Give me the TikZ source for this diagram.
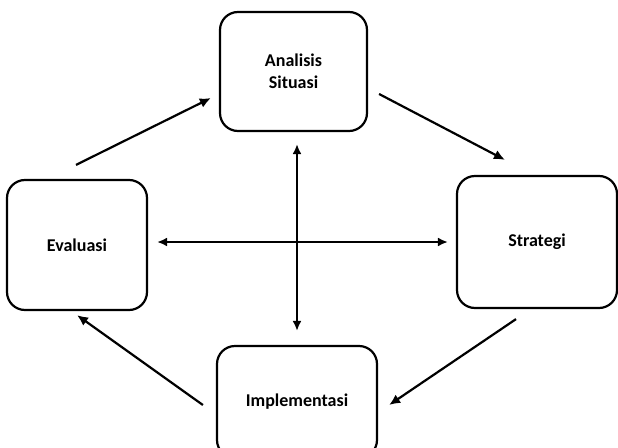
\documentclass[tikz,border=0pt]{standalone}
\usepackage{fontspec}
\setmainfont{Carlito}
\usetikzlibrary{positioning,calc,arrows.meta}

\begin{document}
\begin{tikzpicture}[
    x=1pt, y=-1pt,
    stage/.style={rectangle, draw=black, line width=2.2pt, rounded corners=18pt,
                  inner sep=0pt, align=center, font=\fontsize{18}{22}\selectfont\bfseries},
    flow/.style={line width=2.2pt, -{Latex[length=11pt,width=10pt]}},
    both/.style={line width=2.2pt, {Latex[length=10pt,width=9pt]}-{Latex[length=10pt,width=9pt]}}
]

\useasboundingbox (0,0) rectangle (618,447);

\node[stage, minimum width=147pt, minimum height=119pt] (analisis) at (293.5,71.5) {Analisis\\Situasi};
\node[stage, minimum width=160pt, minimum height=132pt] (strategi) at (537,242) {Strategi};
\node[stage, minimum width=140pt, minimum height=130pt] (evaluasi) at (77,245) {Evaluasi};
\node[stage, minimum width=160pt, minimum height=112pt] (implementasi) at (297,402) {Implementasi};

% siklus
\draw[flow] ($(evaluasi.north)+(-1,-14)$) -- ($(analisis.west)+(-8,26.5)$);
\draw[flow] ($(analisis.east)+(11,22.5)$) -- ($(strategi.north)+(-32,-15)$);
\draw[flow] ($(strategi.south)+(-21,10)$) -- ($(implementasi.east)+(11,3)$);
\draw[flow] ($(implementasi.west)+(-13,3)$) -- ($(evaluasi.south)+(0,4)$);

% silang
\draw[both] ($(evaluasi.east)+(9,-3)$) -- ($(strategi.west)+(-8,0)$);
\draw[both] ($(analisis.south)+(3.5,12)$) -- ($(implementasi.north)+(0,-14)$);

\end{tikzpicture}
\end{document}
